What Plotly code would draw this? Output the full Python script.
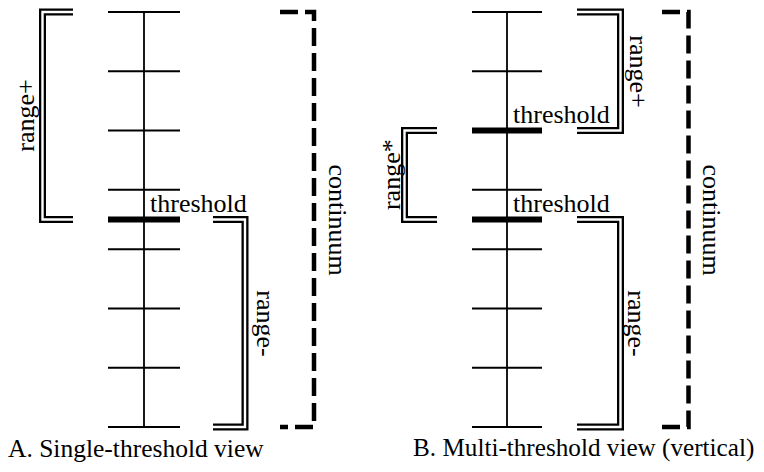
import plotly.graph_objects as go

# ---- data (values on the continuum, in level units) ----
levels = [0, 1, 2, 3, 3.5, 4, 5, 6, 7]
thresholds_a = [3.5]
thresholds_b = [3.5, 5]
continuum = [0, 7]
range_labels_a = ["range+", "range-"]
range_low_a = [3.5, 0]
range_high_a = [7, 3.5]
range_labels_b = ["range+", "range*", "range-"]
range_low_b = [5, 3.5, 0]
range_high_b = [7, 5, 3.5]
captions = ["A. Single-threshold view", "B. Multi-threshold view (vertical)"]
threshold_label = "threshold"

# page is 764x472 but the body has an 8px margin
PAD = 8
W, H = 764 - 2 * PAD, 472 - 2 * PAD
FONT = "Liberation Serif, Times New Roman, serif"
LABEL_SIZE = 26
px_per_level = 415 / 7
y_top = (427 - PAD) / px_per_level
y_bot = (427 - (PAD + H)) / px_per_level

fig = go.Figure()


def add_line(xs, ys, width, color="black", dash="solid"):
    fig.add_trace(go.Scatter(x=xs, y=ys, mode="lines", hoverinfo="skip",
                             line=dict(color=color, width=width, dash=dash),
                             showlegend=False))


def add_scale(axis_x, half, thresholds):
    add_line([axis_x, axis_x], [min(levels), max(levels)], 1.8)
    xs, ys = [], []
    for v in levels:
        if v in thresholds:
            continue
        xs += [axis_x - half, axis_x + half, None]
        ys += [v, v, None]
    add_line(xs, ys, 2)
    xs, ys = [], []
    for v in thresholds:
        xs += [axis_x - half, axis_x + half, None]
        ys += [v, v, None]
    add_line(xs, ys, 6)
    for v in thresholds:
        fig.add_annotation(x=axis_x + 4, y=v, xref="x", yref="y", text=threshold_label,
                           showarrow=False, xanchor="left", yshift=16,
                           font=dict(family=FONT, size=LABEL_SIZE, color="black"))


def add_bracket(x_vert, x_arm, lo, hi, label, label_x, angle):
    xs = [x_arm, x_vert, x_vert, x_arm]
    ys = [hi, hi, lo, lo]
    add_line(xs, ys, 7, "black")
    add_line(xs, ys, 2.4, "white")
    fig.add_annotation(x=label_x, y=(lo + hi) / 2, xref="x", yref="y", text=label,
                       showarrow=False, textangle=angle,
                       font=dict(family=FONT, size=LABEL_SIZE, color="black"))


def add_continuum(x_vert, x_arm, label_x):
    add_line([x_arm, x_vert, x_vert, x_arm],
             [continuum[1], continuum[1], continuum[0], continuum[0]], 4.5,
             dash="18px,7px")
    fig.add_annotation(x=label_x, y=(continuum[0] + continuum[1]) / 2, xref="x", yref="y",
                       text="continuum", showarrow=False, textangle=90,
                       font=dict(family=FONT, size=LABEL_SIZE, color="black"))


# Panel A
add_scale(144, 36, thresholds_a)
add_bracket(42.5, 73, range_low_a[0], range_high_a[0], range_labels_a[0], 26, -90)
add_bracket(245, 213, range_low_a[1], range_high_a[1], range_labels_a[1], 266, 90)
add_continuum(314, 280, 337)

# Panel B
add_scale(507, 35, thresholds_b)
add_bracket(620.5, 577, range_low_b[0], range_high_b[0], range_labels_b[0], 639, 90)
add_bracket(404.5, 437, range_low_b[1], range_high_b[1], range_labels_b[1], 391, -90)
add_bracket(620.5, 577, range_low_b[2], range_high_b[2], range_labels_b[2], 637, 90)
add_continuum(688.5, 662, 711)

for text, x, size in zip(captions, [6, 411], [25.5, 25.2]):
    fig.add_annotation(x=(x - PAD) / W, y=1 - (448 - PAD) / H, xref="paper", yref="paper",
                       text=text, showarrow=False, xanchor="left", yanchor="middle",
                       font=dict(family=FONT, size=size, color="black"))

fig.update_layout(
    width=W, height=H,
    margin=dict(l=0, r=0, t=0, b=0),
    paper_bgcolor="white", plot_bgcolor="white",
    xaxis=dict(range=[PAD, PAD + W], visible=False, fixedrange=True),
    yaxis=dict(range=[y_bot, y_top], visible=False, fixedrange=True),
    showlegend=False,
)

fig.write_html("out.html")
